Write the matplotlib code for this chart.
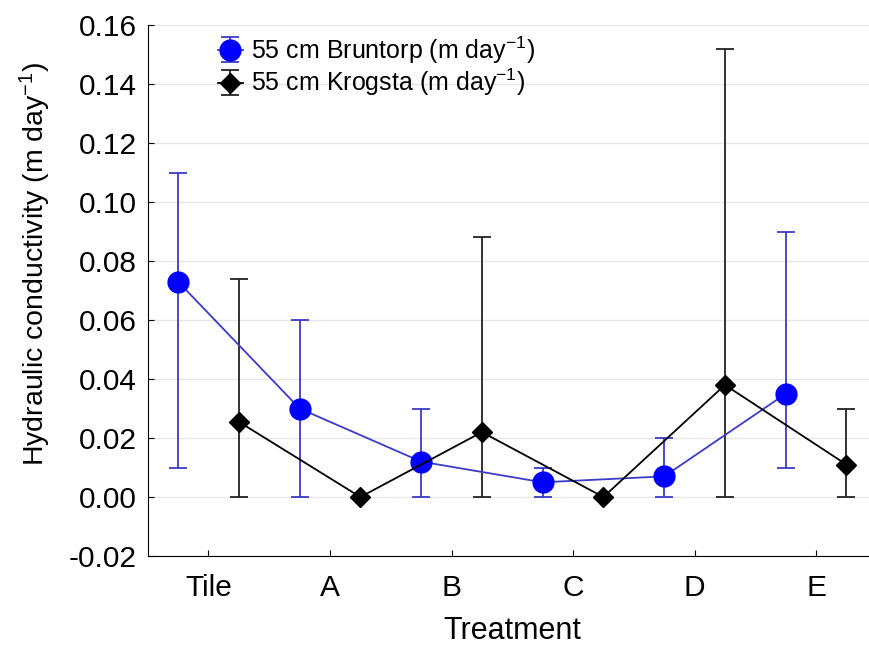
import matplotlib.pyplot as plt
import numpy as np

plt.rcParams["font.family"] = ["Liberation Sans", "DejaVu Sans"]

treatments = ["Tile", "A", "B", "C", "D", "E"]

# 55 cm Bruntorp
brun_mean = [0.073, 0.030, 0.012, 0.005, 0.007, 0.035]
brun_low = [0.010, 0.000, 0.000, 0.000, 0.000, 0.010]
brun_high = [0.110, 0.060, 0.030, 0.010, 0.020, 0.090]

# 55 cm Krogsta
krog_mean = [0.0255, 0.000, 0.022, 0.000, 0.038, 0.011]
krog_low = [0.000, 0.000, 0.000, 0.000, 0.000, 0.000]
krog_high = [0.074, 0.000, 0.088, 0.000, 0.152, 0.030]


def _err(mean, low, high):
    mean = np.asarray(mean)
    return np.vstack([mean - np.asarray(low), np.asarray(high) - mean])


fig = plt.figure(figsize=(8.69, 6.47), dpi=100)
ax = fig.add_axes([0.170, 0.1406, 0.839, 0.8207])

x = np.arange(len(treatments))
off = 0.25
unit = r"(m day$\mathregular{^{-1}}$)"

ax.errorbar(
    x - off, brun_mean, yerr=_err(brun_mean, brun_low, brun_high),
    color="#3b3bc8", ecolor="#3b3bc8", lw=1.3, elinewidth=1.3,
    capsize=6.5, capthick=1.3, marker="o", markersize=15,
    markerfacecolor="#0000ff", markeredgecolor="#0000ff",
    label="55 cm Bruntorp " + unit, zorder=3,
)
ax.errorbar(
    x + off, krog_mean, yerr=_err(krog_mean, krog_low, krog_high),
    color="black", ecolor="#222222", lw=1.3, elinewidth=1.3,
    capsize=6.5, capthick=1.3, marker="D", markersize=10,
    markerfacecolor="black", markeredgecolor="black",
    label="55 cm Krogsta " + unit, zorder=3,
)

ax.set_xlim(-0.5, 5.5)
ax.set_ylim(-0.02, 0.16)
ax.set_yticks(np.arange(-0.02, 0.161, 0.02))
ax.set_yticklabels([f"{v:.2f}" for v in np.arange(-0.02, 0.161, 0.02)])
ax.set_xticks(x)
ax.set_xticklabels(treatments)

ax.grid(axis="y", color="#e6e6e6", lw=1)
ax.set_axisbelow(True)
for s in ("top", "right"):
    ax.spines[s].set_visible(False)
ax.tick_params(direction="in", length=4, labelsize=21.5)
ax.tick_params(axis="y", pad=8)
ax.tick_params(axis="x", pad=13)

ax.set_xlabel("Treatment", fontsize=22, labelpad=10)
ax.set_ylabel("Hydraulic conductivity " + unit, fontsize=20.5)
ax.yaxis.set_label_coords(-0.13, 0.55)

ax.legend(
    loc="upper left", bbox_to_anchor=(0.065, 1.025), frameon=False,
    fontsize=18, handlelength=1.0, handletextpad=0.35, labelspacing=0.05,
)

fig.savefig("out.png", dpi=100)
